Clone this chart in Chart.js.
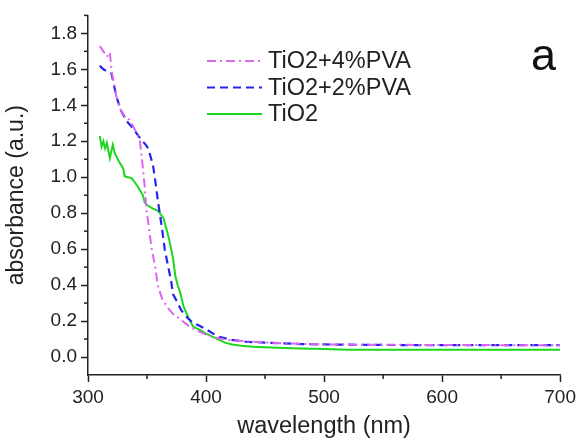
<!DOCTYPE html>
<html>
<head>
<meta charset="utf-8">
<script src="https://cdn.jsdelivr.net/npm/chart.js@4.4.0/dist/chart.umd.min.js"></script>
<style>
  html, body { margin: 0; padding: 0; background: #fff; }
</style>
</head>
<body>
<canvas id="myChart" width="580" height="441"></canvas>
<script>
// TiO2+4%PVA
var wl4 = [310, 313, 316, 318.5, 320, 324, 328, 332, 335, 341, 344, 346.5, 348, 349.5, 352, 354, 357, 359, 363, 368, 372, 380, 386, 393, 400, 410, 420, 440, 470, 500, 550, 600, 650, 700];
var abs4 = [1.73, 1.70, 1.67, 1.695, 1.59, 1.45, 1.37, 1.33, 1.32, 1.25, 1.20, 1.05, 0.95, 0.82, 0.70, 0.60, 0.50, 0.40, 0.32, 0.27, 0.24, 0.20, 0.17, 0.145, 0.125, 0.105, 0.094, 0.085, 0.075, 0.070, 0.068, 0.067, 0.066, 0.066];

// TiO2+2%PVA
var wl2 = [310, 313, 316, 320, 324, 328, 333, 337, 341, 345, 349, 351, 355, 357, 359, 361, 363, 365, 368, 370.5, 372, 376, 379, 384, 389, 394, 400, 406, 411, 422, 434, 450, 480, 500, 550, 600, 650, 700];
var abs2 = [1.62, 1.60, 1.59, 1.575, 1.45, 1.37, 1.31, 1.28, 1.245, 1.21, 1.18, 1.16, 1.07, 0.98, 0.88, 0.79, 0.70, 0.60, 0.50, 0.42, 0.35, 0.30, 0.26, 0.22, 0.19, 0.175, 0.155, 0.13, 0.112, 0.095, 0.085, 0.080, 0.072, 0.070, 0.067, 0.066, 0.066, 0.066];

// TiO2
var wl0 = [310, 311.5, 313, 314.5, 316, 318.5, 321, 322.7, 326, 329.7, 331.2, 334, 337, 342, 346.5, 348, 350, 355, 359, 361, 364, 367, 369, 372, 374, 376, 378, 381, 385, 389, 395, 400, 410, 416, 422, 430, 440, 460, 480, 500, 520, 600, 700];
var abs0 = [1.23, 1.17, 1.20, 1.16, 1.19, 1.106, 1.18, 1.134, 1.09, 1.05, 1.005, 1.00, 0.995, 0.95, 0.90, 0.86, 0.845, 0.825, 0.815, 0.80, 0.77, 0.70, 0.646, 0.55, 0.45, 0.40, 0.36, 0.28, 0.22, 0.17, 0.15, 0.13, 0.10, 0.08, 0.07, 0.063, 0.057, 0.052, 0.048, 0.045, 0.040, 0.040, 0.040];

var xTicks = [300, 400, 500, 600, 700];
var yTicks = [0, 0.2, 0.4, 0.6, 0.8, 1.0, 1.2, 1.4, 1.6, 1.8];
var xMinor = [350, 450, 550, 650];
var yMinor = [0.1, 0.3, 0.5, 0.7, 0.9, 1.1, 1.3, 1.5, 1.7, 1.9];

var FONT = '"Liberation Sans", Arial, sans-serif';
var INK = '#222';

function pts(xs, ys) {
    return xs.map(function (x, i) { return {x: x, y: ys[i]}; });
}

// minor ticks, legend and the panel letter
var extras = {
    id: 'extras',
    afterDraw: function (chart) {
        var ctx = chart.ctx;
        var sx = chart.scales.x, sy = chart.scales.y;
        ctx.save();
        ctx.strokeStyle = INK;
        ctx.lineWidth = 1.5;
        xMinor.forEach(function (v) {
            var px = sx.getPixelForValue(v);
            ctx.beginPath();
            ctx.moveTo(px, sx.top);
            ctx.lineTo(px, sx.top + 4);
            ctx.stroke();
        });
        yMinor.forEach(function (v) {
            var py = sy.getPixelForValue(v);
            ctx.beginPath();
            ctx.moveTo(sy.right, py);
            ctx.lineTo(sy.right - 4, py);
            ctx.stroke();
        });

        ctx.font = '23.5px ' + FONT;
        ctx.textBaseline = 'middle';
        ctx.textAlign = 'left';
        chart.data.datasets.forEach(function (ds, i) {
            var ly = 61 + i * 26.5;
            ctx.strokeStyle = ds.borderColor;
            ctx.lineWidth = ds.borderWidth;
            ctx.setLineDash(ds.borderDash || []);
            ctx.beginPath();
            ctx.moveTo(207, ly);
            ctx.lineTo(262, ly);
            ctx.stroke();
            ctx.setLineDash([]);
            ctx.fillStyle = INK;
            ctx.fillText(ds.label, 268, ly + 1);
        });

        ctx.fillStyle = '#111';
        ctx.font = '45px ' + FONT;
        ctx.textBaseline = 'alphabetic';
        ctx.fillText('a', 531, 70);
        ctx.restore();
    }
};

var ctx = document.getElementById('myChart').getContext('2d');
var chart = new Chart(ctx, {
    type: 'line',
    data: {
        datasets: [{
            label: 'TiO2+4%PVA',
            data: pts(wl4, abs4),
            borderColor: 'rgb(224, 100, 242)',
            borderWidth: 2,
            borderDash: [9, 4, 2, 4]
        }, {
            label: 'TiO2+2%PVA',
            data: pts(wl2, abs2),
            borderColor: 'rgb(36, 36, 238)',
            borderWidth: 2.2,
            borderDash: [8, 5]
        }, {
            label: 'TiO2',
            data: pts(wl0, abs0),
            borderColor: 'rgb(30, 214, 30)',
            borderWidth: 2
        }]
    },
    options: {
        responsive: false,
        animation: false,
        events: [],
        elements: {
            point: { radius: 0 },
            line: { tension: 0, fill: false }
        },
        layout: { padding: { left: 0, right: 17, top: 13, bottom: 0 } },
        plugins: {
            legend: { display: false },
            tooltip: { enabled: false }
        },
        scales: {
            x: {
                type: 'linear',
                min: 300,
                max: 700,
                afterBuildTicks: function (scale) {
                    scale.ticks = xTicks.map(function (v) { return {value: v}; });
                },
                afterFit: function (scale) { scale.height = 66; },
                ticks: {
                    color: INK,
                    padding: 4,
                    maxRotation: 0,
                    autoSkip: false,
                    font: { family: FONT, size: 19 }
                },
                grid: {
                    drawOnChartArea: false,
                    drawTicks: true,
                    tickLength: 7,
                    tickColor: INK,
                    tickWidth: 1.5
                },
                border: { display: true, color: INK, width: 1.5 },
                title: {
                    display: true,
                    text: 'wavelength (nm)',
                    color: INK,
                    padding: { top: 0, bottom: 0 },
                    font: { family: FONT, size: 23.5 }
                }
            },
            y: {
                type: 'linear',
                min: -0.1,
                max: 1.9,
                afterBuildTicks: function (scale) {
                    scale.ticks = yTicks.map(function (v) { return {value: v}; });
                },
                afterFit: function (scale) { scale.width = 88; },
                ticks: {
                    color: INK,
                    padding: 4,
                    autoSkip: false,
                    font: { family: FONT, size: 19 },
                    callback: function (v) { return Number(v).toFixed(1); }
                },
                grid: {
                    drawOnChartArea: false,
                    drawTicks: true,
                    tickLength: 7,
                    tickColor: INK,
                    tickWidth: 1.5
                },
                border: { display: true, color: INK, width: 1.5 },
                title: {
                    display: true,
                    text: 'absorbance (a.u.)',
                    color: INK,
                    padding: { top: 3, bottom: 3 },
                    font: { family: FONT, size: 23 }
                }
            }
        }
    },
    plugins: [extras]
});
</script>
</body>
</html>
